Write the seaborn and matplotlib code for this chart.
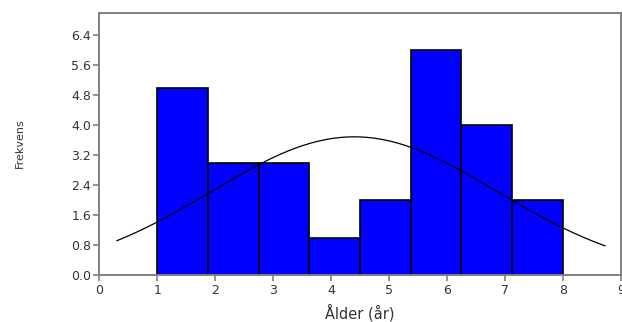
import numpy as np
import pandas as pd
import matplotlib
matplotlib.use("Agg")
import matplotlib.pyplot as plt
import seaborn as sns

# Histogram bins (Ålder i år) and frequencies
bin_edges = [1.0, 1.875, 2.75, 3.625, 4.5, 5.375, 6.25, 7.125, 8.0]
counts = [5, 3, 3, 1, 2, 6, 4, 2]

# Fitted normal curve parameters
curve_mean = 4.40
curve_sd = 2.46
curve_start, curve_end = 0.3, 8.73

x_ticks = [0, 1, 2, 3, 4, 5, 6, 7, 8, 9]
y_ticks = [0.0, 0.8, 1.6, 2.4, 3.2, 4.0, 4.8, 5.6, 6.4]

sns.set_style("white")
plt.rcParams["font.family"] = ["DejaVu Sans"]

centers = [(a + b) / 2 for a, b in zip(bin_edges[:-1], bin_edges[1:])]
df = pd.DataFrame({"Alder": centers, "n": counts})

fig = plt.figure(figsize=(6.22, 3.22), dpi=100)
ax = fig.add_axes([0.1597, 0.145, 0.8383, 0.8137])

sns.histplot(data=df, x="Alder", weights="n", bins=bin_edges, ax=ax,
             color="#0000ff", alpha=1.0, edgecolor="black", linewidth=1.2)

# normal curve scaled to the histogram (n * binwidth * pdf)
total = sum(counts)
bw = bin_edges[1] - bin_edges[0]
xs = np.linspace(curve_start, curve_end, 200)
ys = total * bw / (curve_sd * np.sqrt(2 * np.pi)) * np.exp(-0.5 * ((xs - curve_mean) / curve_sd) ** 2)
sns.lineplot(x=xs, y=ys, ax=ax, color="black", linewidth=0.9)

ax.set_xlim(0, 9)
ax.set_ylim(0, 6.98)
ax.set_xticks(x_ticks)
ax.set_yticks(y_ticks)
ax.set_yticklabels([f"{v:.1f}" for v in y_ticks])
ax.set_xlabel("Ålder (år)", fontsize=10.5, color="#333333")
ax.set_ylabel("Frekvens", fontsize=8, color="#333333")
ax.xaxis.set_label_coords(0.5, -0.108)
ax.yaxis.set_label_coords(-0.143, 0.505)

for s in ax.spines.values():
    s.set_color("#808080")
    s.set_linewidth(1.4)
ax.tick_params(axis="both", which="both", direction="out", length=4, width=1.2,
               color="#808080", labelsize=9, labelcolor="#333333", pad=2,
               bottom=True, left=True)

fig.savefig("out.png", dpi=100)
